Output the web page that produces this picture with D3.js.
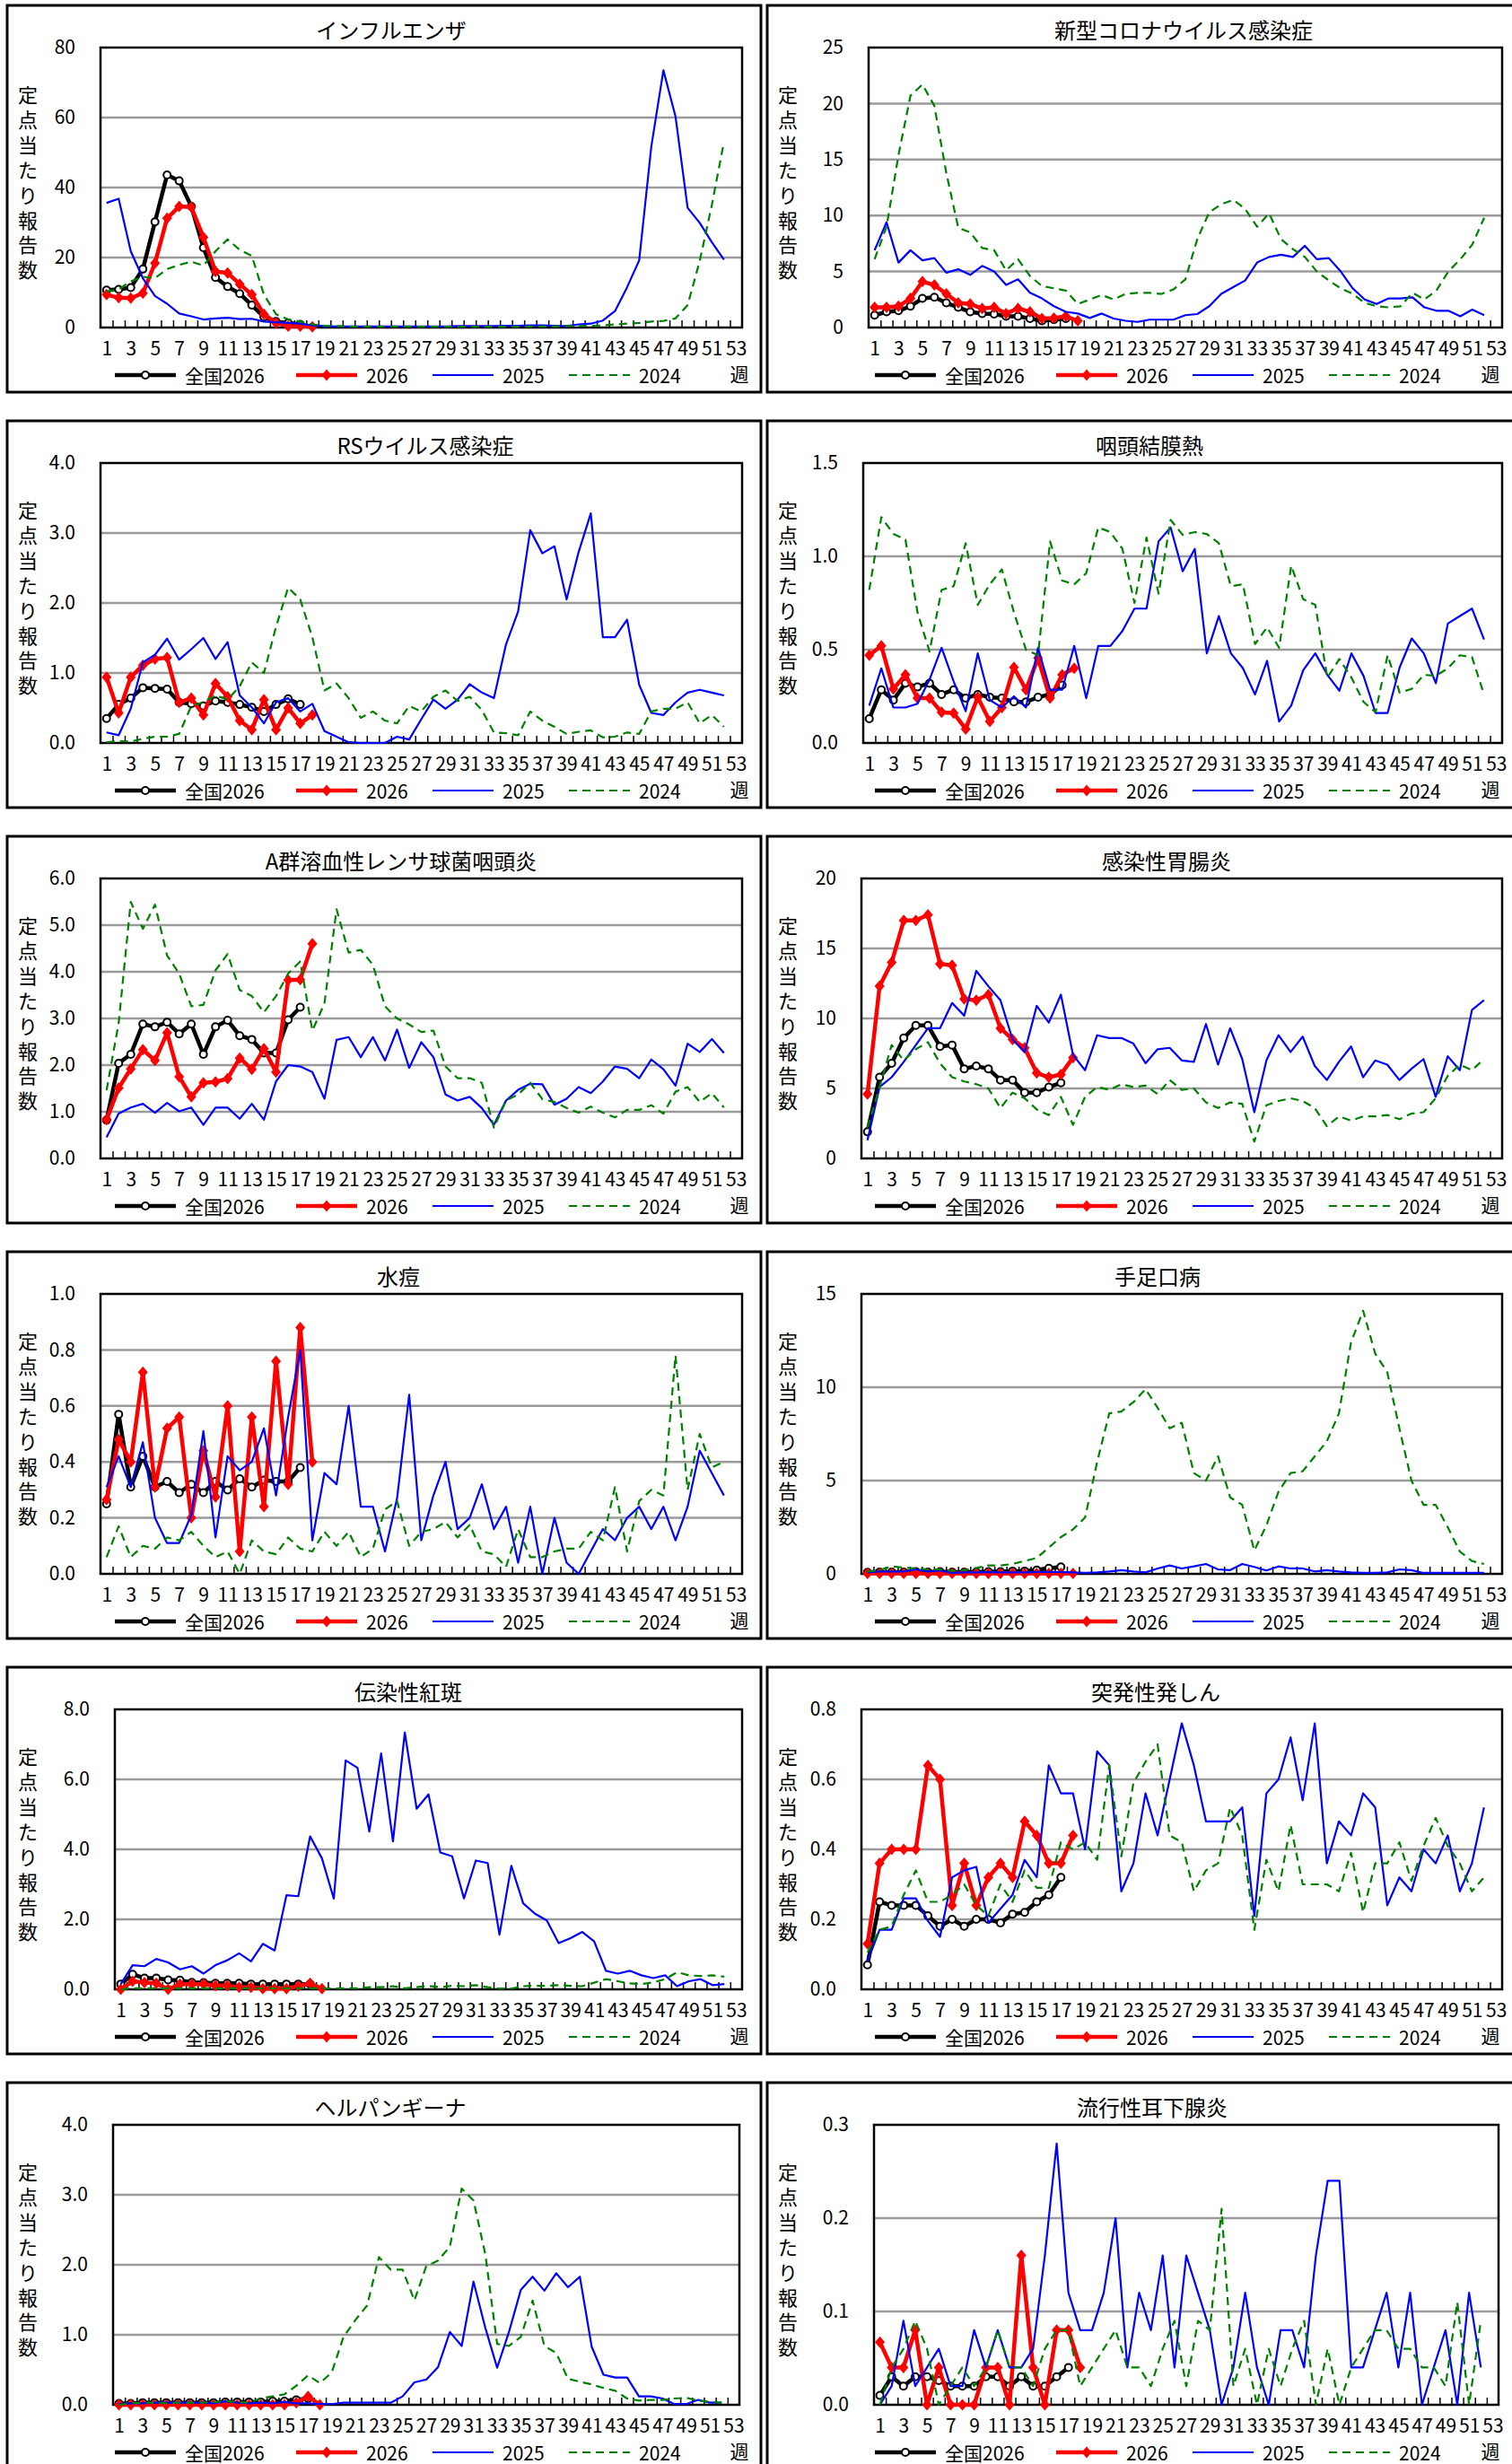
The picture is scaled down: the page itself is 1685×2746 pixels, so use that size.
<!DOCTYPE html>
<html lang="ja">
<head>
<meta charset="utf-8">
<script src="https://cdnjs.cloudflare.com/ajax/libs/d3/7.8.5/d3.min.js"></script>
<style>
  body { margin: 0; background: #fff; }
  text { font-family: "Noto Sans CJK JP", sans-serif; fill: #000; }
  .line { fill: none; }
  .grid { stroke: #9a9a9a; stroke-width: 2.5; }
</style>
</head>
<body>
<div id="chart"></div>
<script>
// weekly per-sentinel reports, week 1..
var legendNames = ["全国2026", "2026", "2025", "2024"];

var infNat  = [10.7,10.9,11.4,16.7,30.2,43.6,41.9,34.6,22.8,14.3,11.7,9.7,6.4,3.0,1.7,1.3,0.9];
var infPref = [9.4,8.5,8.4,9.8,18.4,31.2,34.6,34.4,25.8,16.0,15.6,12.4,9.4,3.8,1.3,0.4,0.4,0.2];
var inf2025 = [35.6,36.8,21.8,14.1,9.0,6.8,4.0,3.2,2.3,2.6,2.8,2.4,2.5,1.7,1.5,1.3,1.1,0.6,
  0.4,0.3,0.3,0.3,0.3,0.3,0.3,0.3,0.3,0.3,0.3,0.4,0.4,0.4,0.4,0.5,0.5,0.6,0.6,0.5,0.4,
  0.9,1.1,2.0,4.7,11.5,19.2,51.7,73.5,60.3,34.2,29.9,24.4,19.4];
var inf2024 = [10.3,10.9,13.2,14.5,14.1,16.7,17.9,18.8,17.7,21.8,25.2,22.2,20.5,9.4,3.8,2.3,1.7,0.9,
  0.5,0.4,0.3,0.3,0.3,0.3,0.3,0.3,0.2,0.2,0.2,0.2,0.2,0.2,0.2,0.2,0.2,0.3,0.3,0.3,0.4,0.4,0.5,
  0.6,0.9,1.1,1.3,1.7,1.9,2.6,6.4,19.0,35.0,53.0];

var covNat  = [1.1,1.4,1.5,1.9,2.6,2.7,2.2,1.8,1.4,1.25,1.2,1.0,1.0,0.8,0.6,0.7,0.8];
var covPref = [1.8,1.8,1.9,2.6,4.1,3.8,3.0,2.2,2.1,1.7,1.8,1.25,1.7,1.4,0.8,0.85,1.0,0.6];
var cov2025 = [6.9,9.4,5.8,6.9,6.0,6.2,4.9,5.2,4.7,5.5,5.0,3.8,4.3,3.1,2.6,1.9,1.4,1.25,0.85,1.25,
  0.8,0.6,0.5,0.7,0.7,0.7,1.1,1.2,1.9,3.0,3.6,4.2,5.8,6.3,6.5,6.3,7.3,6.1,6.2,5.0,
  3.5,2.5,2.1,2.6,2.6,2.7,1.8,1.5,1.5,1.0,1.6,1.1];
var cov2024 = [6.1,9.0,15.4,20.7,21.7,19.8,13.8,8.9,8.5,7.1,6.9,5.1,6.1,4.6,3.7,3.5,3.3,2.1,2.5,2.9,
  2.5,3.0,3.1,3.1,3.0,3.4,4.3,7.9,10.3,11.0,11.4,10.6,9.0,10.2,7.9,7.0,6.3,5.0,4.2,3.5,
  3.0,2.2,1.9,1.8,1.9,3.1,2.5,3.3,5.0,6.1,7.4,9.8];

var rsNat  = [0.35,0.55,0.64,0.79,0.78,0.77,0.58,0.56,0.53,0.6,0.58,0.55,0.51,0.45,0.55,0.63,0.55];
var rsPref = [0.94,0.43,0.94,1.11,1.2,1.22,0.58,0.64,0.4,0.85,0.66,0.32,0.19,0.62,0.19,0.5,0.28,0.4];
var rs2025 = [0.15,0.11,0.49,1.15,1.26,1.49,1.19,1.34,1.5,1.2,1.44,0.68,0.51,0.28,0.58,0.64,0.45,0.56,0.17,0.09,
  0.01,0,0,0,0.09,0.05,0.34,0.62,0.49,0.62,0.84,0.72,0.64,1.41,1.88,3.04,2.71,2.81,2.05,2.73,
  3.28,1.51,1.51,1.76,0.83,0.43,0.4,0.58,0.72,0.76,0.72,0.68];
var rs2024 = [0.01,0.03,0.02,0.06,0.09,0.09,0.13,0.53,0.58,0.68,0.62,0.81,1.15,1.0,1.66,2.22,2.05,1.51,0.75,0.85,
  0.64,0.36,0.45,0.32,0.28,0.53,0.45,0.66,0.75,0.6,0.66,0.47,0.15,0.14,0.11,0.45,0.32,0.23,0.13,0.16,
  0.18,0.08,0.09,0.15,0.13,0.45,0.49,0.49,0.58,0.28,0.4,0.23];

var pcfNat  = [0.13,0.285,0.23,0.32,0.30,0.32,0.26,0.285,0.24,0.26,0.245,0.24,0.22,0.22,0.245,0.26,0.31];
var pcfPref = [0.47,0.52,0.29,0.365,0.24,0.24,0.165,0.16,0.075,0.245,0.115,0.19,0.405,0.285,0.455,0.24,0.365,0.4];
var pcf2025 = [0.2,0.4,0.19,0.19,0.21,0.34,0.51,0.33,0.17,0.48,0.23,0.19,0.25,0.19,0.51,0.285,0.285,0.52,0.24,0.52,
  0.52,0.6,0.72,0.72,1.08,1.155,0.92,1.04,0.48,0.68,0.48,0.4,0.26,0.44,0.115,0.2,0.39,0.48,0.365,0.28,
  0.48,0.36,0.16,0.16,0.405,0.56,0.48,0.32,0.64,0.68,0.72,0.555];
var pcf2024 = [0.82,1.21,1.12,1.09,0.70,0.49,0.82,0.84,1.07,0.74,0.85,0.93,0.70,0.50,0.47,1.08,0.87,0.85,0.91,1.155,
  1.13,1.04,0.75,1.10,0.80,1.195,1.115,1.13,1.12,1.07,0.84,0.85,0.53,0.62,0.51,0.95,0.77,0.74,0.35,0.45,
  0.35,0.22,0.165,0.47,0.27,0.29,0.365,0.36,0.4,0.47,0.46,0.26];

var gasNat  = [0.82,2.04,2.23,2.88,2.82,2.92,2.67,2.88,2.23,2.82,2.96,2.63,2.55,2.26,2.26,2.97,3.24];
var gasPref = [0.83,1.51,1.92,2.33,2.1,2.69,1.75,1.32,1.62,1.64,1.71,2.15,1.91,2.35,1.85,3.82,3.83,4.6];
var gas2025 = [0.45,0.96,1.09,1.17,0.98,1.19,1.01,1.09,0.72,1.09,1.09,0.85,1.17,0.83,1.65,2.0,1.97,1.85,1.28,2.54,
  2.6,2.17,2.6,2.1,2.76,1.94,2.49,2.17,1.37,1.24,1.32,1.08,0.72,1.24,1.47,1.6,1.59,1.15,1.28,1.53,
  1.4,1.65,1.97,1.92,1.72,2.12,1.91,1.56,2.46,2.28,2.56,2.26];
var gas2024 = [1.46,2.9,5.5,4.92,5.44,4.35,3.96,3.26,3.29,4.03,4.38,3.61,3.48,3.13,3.48,3.96,4.22,2.74,3.32,5.34,
  4.41,4.47,4.15,3.26,3.0,2.87,2.71,2.74,1.97,1.72,1.72,1.62,0.66,1.24,1.37,1.62,1.27,1.21,1.08,0.98,
  1.11,0.98,0.88,1.04,1.04,1.14,0.96,1.43,1.53,1.21,1.4,1.09];

var geNat  = [1.9,5.8,6.8,8.6,9.5,9.5,8.0,8.1,6.4,6.6,6.4,5.6,5.6,4.7,4.7,5.1,5.4];
var gePref = [4.6,12.3,14.0,17.0,17.0,17.4,13.9,13.8,11.4,11.3,11.7,9.3,8.5,7.9,6.1,5.8,6.0,7.2];
var ge2025 = [1.3,5.1,5.8,6.9,8.1,9.3,9.3,11.1,10.2,13.4,12.3,11.3,8.5,7.6,10.9,9.7,11.7,7.4,6.3,8.8,
  8.6,8.6,8.2,6.8,7.8,7.9,7.0,6.9,9.6,6.7,9.3,7.1,3.3,7.0,8.8,7.6,8.7,6.6,5.6,6.9,
  8.0,5.8,7.0,6.7,5.6,6.4,7.1,4.4,7.3,6.3,10.6,11.3];
var ge2024 = [2.2,5.1,8.1,7.0,7.8,8.3,6.8,5.8,5.5,5.3,5.0,3.6,4.7,4.3,3.5,3.1,4.4,2.4,4.4,5.1,
  4.9,5.3,5.1,5.2,4.6,5.6,4.9,5.0,4.0,3.6,4.0,3.9,1.2,3.8,4.1,4.3,4.1,3.6,2.3,3.0,
  2.7,3.0,3.0,3.1,2.8,3.2,3.3,4.3,5.9,6.7,6.3,7.1];

var vzNat  = [0.25,0.57,0.31,0.42,0.31,0.33,0.29,0.32,0.29,0.33,0.3,0.34,0.31,0.335,0.33,0.33,0.38];
var vzPref = [0.265,0.48,0.4,0.72,0.31,0.52,0.56,0.2,0.44,0.275,0.6,0.08,0.56,0.24,0.76,0.32,0.88,0.4];
var vz2025 = [0.31,0.42,0.31,0.47,0.2,0.11,0.11,0.21,0.51,0.13,0.42,0.37,0.4,0.52,0.28,0.56,0.8,0.12,0.36,0.32,
  0.6,0.24,0.24,0.08,0.27,0.64,0.12,0.28,0.4,0.16,0.2,0.32,0.16,0.24,0.04,0.24,0.0,0.2,0.04,0.0,
  0.08,0.16,0.12,0.2,0.24,0.16,0.24,0.12,0.24,0.44,0.36,0.28];
var vz2024 = [0.06,0.17,0.06,0.1,0.09,0.13,0.12,0.15,0.1,0.06,0.08,0.0,0.12,0.08,0.07,0.13,0.09,0.08,0.15,0.1,
  0.15,0.06,0.09,0.23,0.26,0.1,0.15,0.16,0.185,0.13,0.175,0.08,0.07,0.025,0.16,0.06,0.06,0.08,0.09,0.09,
  0.15,0.12,0.31,0.08,0.26,0.3,0.28,0.78,0.3,0.5,0.38,0.4];

var hfmNat  = [0.08,0.1,0.1,0.1,0.12,0.1,0.12,0.1,0.1,0.1,0.12,0.12,0.15,0.15,0.2,0.3,0.37];
var hfmPref = [0.03,0.03,0.02,0.03,0.02,0.03,0.02,0.02,0.03,0.02,0.02,0.03,0.02,0.02,0.03,0.03,0.03,0.02];
var hfm2025 = [0.08,0.13,0.13,0.13,0.24,0.13,0.18,0.05,0.08,0.08,0.1,0.08,0.08,0.08,0.1,0.1,0.1,0.08,0.05,0.08,
  0.13,0.2,0.13,0.08,0.29,0.45,0.29,0.4,0.53,0.24,0.2,0.53,0.37,0.18,0.4,0.29,0.29,0.13,0.2,0.13,
  0.08,0.05,0.05,0.08,0.24,0.2,0.05,0.05,0.05,0.05,0.05,0.05];
var hfm2024 = [0.13,0.2,0.4,0.33,0.29,0.24,0.24,0.16,0.2,0.32,0.45,0.45,0.53,0.69,0.85,1.41,1.97,2.38,3.02,6.0,
  8.6,8.7,9.2,9.9,8.9,7.8,8.1,5.4,5.0,6.3,4.1,3.7,1.25,2.6,4.4,5.4,5.5,6.3,7.1,8.6,
  12.4,14.1,11.8,10.8,7.8,5.0,3.7,3.7,2.5,1.2,0.69,0.53];

var eiNat  = [0.15,0.43,0.32,0.32,0.27,0.26,0.2,0.19,0.17,0.17,0.17,0.15,0.15,0.15,0.15,0.15,0.15];
var eiPref = [0.0,0.23,0.19,0.17,0.0,0.15,0.15,0.15,0.1,0.1,0.06,0.06,0.02,0.02,0.02,0.09,0.17,0.02];
var ei2025 = [0.15,0.69,0.66,0.87,0.77,0.57,0.66,0.45,0.69,0.83,1.03,0.8,1.3,1.11,2.69,2.66,4.37,3.74,2.59,6.54,
  6.33,4.51,6.74,4.23,7.34,5.16,5.57,3.91,3.8,2.6,3.68,3.61,1.56,3.53,2.46,2.16,1.97,1.32,1.46,1.64,
  1.37,0.53,0.45,0.53,0.4,0.32,0.4,0.09,0.23,0.29,0.12,0.15];
var ei2024 = [0,0.03,0.03,0.03,0.03,0.03,0.03,0.03,0.03,0.03,0.03,0.03,0.03,0.03,0.03,0.03,0.03,0.03,0.02,0.03,
  0.03,0.06,0.06,0.09,0.03,0.06,0.1,0.06,0.1,0.09,0.12,0.06,0.02,0.02,0.09,0.1,0.1,0.12,0.1,0.09,
  0.19,0.29,0.23,0.17,0.15,0.2,0.29,0.49,0.4,0.38,0.4,0.36];

var esNat  = [0.07,0.25,0.24,0.24,0.24,0.21,0.18,0.2,0.18,0.2,0.2,0.19,0.215,0.22,0.25,0.27,0.32];
var esPref = [0.13,0.36,0.4,0.4,0.4,0.64,0.6,0.24,0.36,0.24,0.32,0.36,0.32,0.48,0.44,0.36,0.36,0.44];
var es2025 = [0.08,0.17,0.17,0.26,0.26,0.195,0.15,0.32,0.34,0.35,0.19,0.23,0.27,0.37,0.32,0.64,0.56,0.56,0.4,0.68,
  0.64,0.28,0.36,0.56,0.44,0.6,0.76,0.64,0.48,0.48,0.48,0.52,0.21,0.56,0.6,0.72,0.54,0.76,0.36,0.48,
  0.44,0.56,0.52,0.24,0.32,0.28,0.4,0.36,0.44,0.28,0.36,0.52];
var es2024 = [0.105,0.17,0.18,0.27,0.34,0.25,0.25,0.27,0.3,0.24,0.21,0.3,0.25,0.34,0.29,0.29,0.42,0.4,0.42,0.37,
  0.64,0.38,0.59,0.65,0.7,0.44,0.42,0.28,0.34,0.36,0.52,0.44,0.17,0.37,0.28,0.47,0.3,0.3,0.3,0.28,
  0.39,0.22,0.36,0.36,0.42,0.31,0.41,0.49,0.41,0.36,0.28,0.32];

var hpNat  = [0.02,0.02,0.03,0.03,0.03,0.03,0.03,0.03,0.03,0.04,0.04,0.04,0.04,0.05,0.05,0.07,0.09];
var hpPref = [0,0,0,0,0,0,0,0,0,0,0,0,0,0,0,0.03,0.12,0];
var hp2025 = [0.01,0.02,0.02,0.03,0.03,0.03,0.03,0.03,0.02,0.05,0.03,0.02,0.03,0.02,0.04,0.02,0.02,0.01,0.01,0.03,
  0.03,0.03,0.03,0.03,0.12,0.32,0.36,0.54,1.04,0.84,1.76,1.1,0.53,1.04,1.64,1.83,1.63,1.88,1.68,1.83,
  0.83,0.43,0.39,0.39,0.12,0.12,0.09,0.01,0.01,0.07,0.03,0.03];
var hp2024 = [0.0,0.02,0.03,0.03,0.02,0.03,0.03,0.03,0.04,0.05,0.04,0.03,0.09,0.12,0.15,0.27,0.42,0.31,0.46,0.97,
  1.21,1.42,2.11,1.93,1.93,1.49,1.98,2.06,2.26,3.09,2.92,2.15,0.87,0.84,0.97,1.49,0.84,0.74,0.37,0.33,
  0.29,0.24,0.2,0.09,0.06,0.07,0.07,0.09,0.1,0.06,0.04,0.03];

var mmNat  = [0.01,0.03,0.02,0.03,0.03,0.026,0.02,0.02,0.02,0.03,0.03,0.02,0.03,0.02,0.02,0.03,0.04];
var mmPref = [0.067,0.04,0.04,0.08,0.0,0.04,0.0,0.0,0.0,0.04,0.04,0.0,0.16,0.04,0.0,0.08,0.08,0.04];
var mm2025 = [0.0,0.02,0.09,0.02,0.04,0.06,0.02,0.02,0.08,0.04,0.08,0.04,0.04,0.06,0.16,0.28,0.12,0.08,0.08,0.12,
  0.2,0.04,0.12,0.08,0.16,0.04,0.16,0.12,0.08,0.0,0.04,0.12,0.04,0.0,0.08,0.08,0.04,0.16,0.24,0.24,
  0.04,0.04,0.08,0.12,0.04,0.12,0.0,0.04,0.08,0.0,0.12,0.04];
var mm2024 = [0.0,0.04,0.06,0.09,0.06,0.0,0.02,0.04,0.02,0.04,0.08,0.04,0.04,0.02,0.06,0.08,0.08,0.02,0.04,0.06,
  0.08,0.04,0.04,0.02,0.06,0.09,0.02,0.09,0.08,0.21,0.02,0.06,0.0,0.06,0.02,0.06,0.09,0.0,0.06,0.0,
  0.04,0.06,0.08,0.08,0.06,0.06,0.04,0.04,0.02,0.11,0.0,0.09];

var panels = [
  {title: "インフルエンザ", tx: 436, col: 0, row: 0, x0: 112, x1: 827, max: 80, step: 20, dec: 0, series: [infNat, infPref, inf2025, inf2024]},
  {title: "新型コロナウイルス感染症", tx: 1319, col: 1, row: 0, x0: 968, x1: 1674, max: 25, step: 5, dec: 0, series: [covNat, covPref, cov2025, cov2024]},
  {title: "RSウイルス感染症", tx: 474, col: 0, row: 1, x0: 112, x1: 827, max: 4, step: 1, dec: 1, series: [rsNat, rsPref, rs2025, rs2024]},
  {title: "咽頭結膜熱", tx: 1281, col: 1, row: 1, x0: 962, x1: 1674, max: 1.5, step: 0.5, dec: 1, series: [pcfNat, pcfPref, pcf2025, pcf2024]},
  {title: "A群溶血性レンサ球菌咽頭炎", tx: 447, col: 0, row: 2, x0: 112, x1: 827, max: 6, step: 1, dec: 1, series: [gasNat, gasPref, gas2025, gas2024]},
  {title: "感染性胃腸炎", tx: 1300, col: 1, row: 2, x0: 960, x1: 1674, max: 20, step: 5, dec: 0, series: [geNat, gePref, ge2025, ge2024]},
  {title: "水痘", tx: 444, col: 0, row: 3, x0: 112, x1: 827, max: 1, step: 0.2, dec: 1, series: [vzNat, vzPref, vz2025, vz2024]},
  {title: "手足口病", tx: 1290, col: 1, row: 3, x0: 960, x1: 1674, max: 15, step: 5, dec: 0, series: [hfmNat, hfmPref, hfm2025, hfm2024]},
  {title: "伝染性紅斑", tx: 455, col: 0, row: 4, x0: 128, x1: 827, max: 8, step: 2, dec: 1, series: [eiNat, eiPref, ei2025, ei2024]},
  {title: "突発性発しん", tx: 1288, col: 1, row: 4, x0: 960, x1: 1674, max: 0.8, step: 0.2, dec: 1, series: [esNat, esPref, es2025, es2024]},
  {title: "ヘルパンギーナ", tx: 435, col: 0, row: 5, x0: 126, x1: 824, max: 4, step: 1, dec: 1, series: [hpNat, hpPref, hp2025, hp2024]},
  {title: "流行性耳下腺炎", tx: 1284, col: 1, row: 5, x0: 974, x1: 1670, max: 0.3, step: 0.1, dec: 1, series: [mmNat, mmPref, mm2025, mm2024]}
];

var rowTops = [6, 469, 932, 1395, 1858, 2321];
var yTitle = "定点当たり報告数";

// line styles for 全国2026, 2026, 2025, 2024
var styles = [
  {color: "#000000", width: 4.5, dash: null, marker: "circle"},
  {color: "#ff0000", width: 4.5, dash: null, marker: "diamond"},
  {color: "#0000ff", width: 2.2, dash: null, marker: null},
  {color: "#008000", width: 2.2, dash: "9,6", marker: null}
];

var svg = d3.select("#chart").append("svg")
    .attr("width", 1685)
    .attr("height", 2746);

svg.append("rect").attr("width", 1685).attr("height", 2746).attr("fill", "#fff");

function diamond(g, cx, cy, color) {
    g.append("path")
        .attr("d", "M" + cx + "," + (cy - 6.5) + "L" + (cx + 5.5) + "," + cy + "L" + cx + "," + (cy + 6.5) + "L" + (cx - 5.5) + "," + cy + "Z")
        .attr("fill", color);
}

function drawMarkers(g, st, pts) {
    pts.forEach(function (p) {
        if (st.marker === "circle") {
            g.append("circle").attr("cx", p[0]).attr("cy", p[1]).attr("r", 4)
                .attr("fill", "#fff").attr("stroke", st.color).attr("stroke-width", 2);
        } else if (st.marker === "diamond") {
            diamond(g, p[0], p[1], st.color);
        }
    });
}

function drawPanel(p) {
    var fx = p.col === 0 ? 8 : 855;
    var fw = p.col === 0 ? 840 : 845;
    var fy = rowTops[p.row];
    var top = fy + 47, bottom = fy + 359;
    var g = svg.append("g");

    g.append("rect").attr("x", fx).attr("y", fy).attr("width", fw).attr("height", 431)
        .attr("fill", "#fff").attr("stroke", "#000").attr("stroke-width", 3);

    var x = d3.scaleLinear().domain([0.5, 53.5]).range([p.x0, p.x1]);
    var y = d3.scaleLinear().domain([0, p.max]).range([bottom, top]);
    var ticks = d3.range(0, Math.round(p.max / p.step) + 1).map(function (i) { return +(i * p.step).toFixed(3); });

    // gridlines
    g.selectAll(".grid").data(ticks.slice(1, -1)).enter().append("line")
        .attr("class", "grid")
        .attr("x1", p.x0).attr("x2", p.x1)
        .attr("y1", function (d) { return y(d); }).attr("y2", function (d) { return y(d); });

    // y labels
    var ya = g.append("g").attr("transform", "translate(" + p.x0 + ",0)")
        .call(d3.axisLeft(y).tickValues(ticks).tickSize(0).tickPadding(28).tickFormat(d3.format("." + p.dec + "f")));
    ya.select(".domain").remove();
    ya.selectAll("text").style("font-size", "21px").attr("font-family", null);

    // x labels (odd weeks)
    var xa = g.append("g").attr("transform", "translate(0," + bottom + ")")
        .call(d3.axisBottom(x).tickValues(d3.range(1, 54, 2)).tickSize(0).tickPadding(16).tickFormat(d3.format("d")));
    xa.select(".domain").remove();
    xa.selectAll("text").style("font-size", "21px").attr("font-family", null);

    // inside tick marks between weeks
    var ta = g.append("g").attr("transform", "translate(0," + bottom + ")")
        .call(d3.axisTop(x).tickValues(d3.range(1.5, 53, 1)).tickSize(8).tickFormat(""));
    ta.select(".domain").remove();
    ta.selectAll("line").attr("stroke", "#000").attr("stroke-width", 1.5);

    // plot border
    g.append("rect").attr("x", p.x0).attr("y", top).attr("width", p.x1 - p.x0).attr("height", bottom - top)
        .attr("fill", "none").attr("stroke", "#000").attr("stroke-width", 2.5);

    // series
    var line = d3.line()
        .x(function (d, i) { return x(i + 1); })
        .y(function (d) { return y(d); });

    p.series.forEach(function (data, k) {
        var st = styles[k];
        var path = g.append("path").datum(data)
            .attr("class", "line")
            .attr("d", line)
            .attr("stroke", st.color)
            .attr("stroke-width", st.width)
            .attr("stroke-linejoin", "round");
        if (st.dash) path.attr("stroke-dasharray", st.dash);
        drawMarkers(g, st, data.map(function (d, i) { return [x(i + 1), y(d)]; }));
    });

    // title
    g.append("text").attr("x", p.tx).attr("y", fy + 26)
        .attr("text-anchor", "middle").attr("dominant-baseline", "central")
        .style("font-size", "24px").text(p.title);

    // vertical y title
    yTitle.split("").forEach(function (ch, i) {
        g.append("text").attr("x", fx + 23).attr("y", fy + 98 + i * 27.9)
            .attr("text-anchor", "middle").attr("dominant-baseline", "central")
            .style("font-size", "22px").text(ch);
    });

    // legend
    var lx = [120, 322, 474, 626];
    var ly = fy + 412;
    legendNames.forEach(function (name, k) {
        var st = styles[k];
        var x0 = fx + lx[k];
        var l = g.append("line").attr("x1", x0).attr("x2", x0 + 68).attr("y1", ly).attr("y2", ly)
            .attr("stroke", st.color).attr("stroke-width", st.width);
        if (st.dash) l.attr("stroke-dasharray", st.dash);
        drawMarkers(g, st, [[x0 + 34, ly]]);
        g.append("text").attr("x", x0 + 78).attr("y", ly)
            .attr("dominant-baseline", "central").style("font-size", "21px").text(name);
    });

    g.append("text").attr("x", fx + (p.col === 0 ? 816 : 806)).attr("y", fy + 410)
        .attr("text-anchor", "middle").attr("dominant-baseline", "central")
        .style("font-size", "21px").text("週");
}

panels.forEach(drawPanel);
</script>
</body>
</html>
